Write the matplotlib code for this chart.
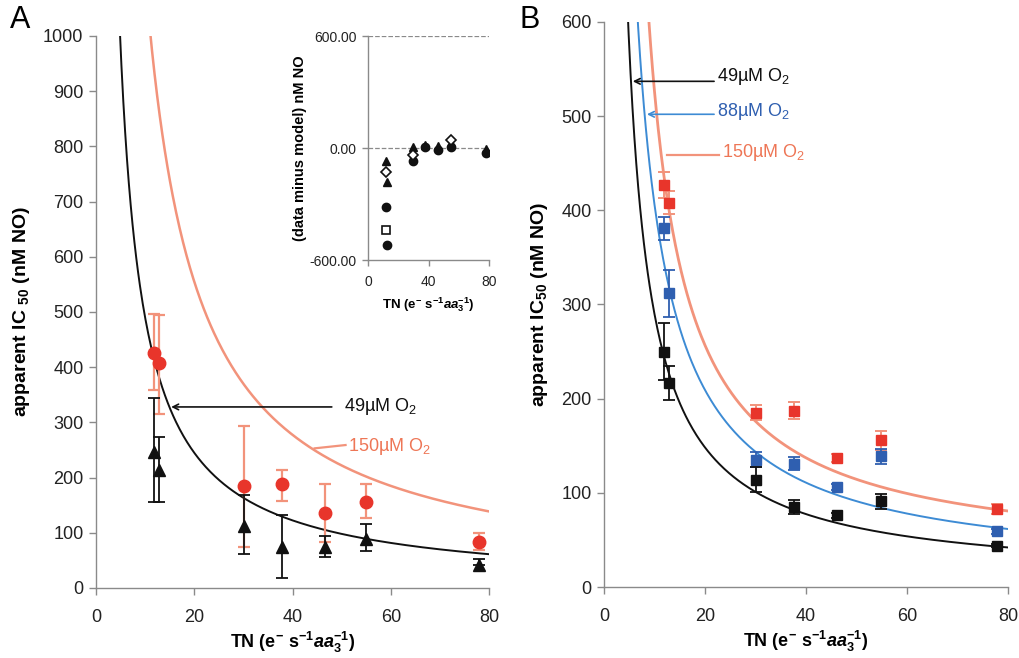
import numpy as np
import matplotlib
matplotlib.use("Agg")
import matplotlib.pyplot as plt

plt.rcParams['font.family'] = ['Liberation Sans', 'DejaVu Sans']
plt.rcParams['mathtext.fontset'] = 'custom'
plt.rcParams['mathtext.rm'] = 'Liberation Sans'
plt.rcParams['mathtext.it'] = 'Liberation Sans:italic'
plt.rcParams['mathtext.bf'] = 'Liberation Sans:bold'
plt.rcParams['mathtext.bfit'] = 'Liberation Sans:bold:italic'

# ---- panel A data (IC50 vs TN) ----
tn_a = [11.9, 12.9, 30.1, 37.8, 46.6, 55.0, 78.0]
ic50_a_49 = [247, 214, 112, 75, 75, 89, 42]
err_a_49_up = [98, 59, 56, 57, 20, 27, 10]
err_a_49_lo = [92, 59, 51, 56, 19, 22, 0]
ic50_a_150 = [425, 407, 185, 188, 136, 156, 84]
err_a_150_up = [72, 88, 109, 26, 52, 32, 15]
err_a_150_lo = [66, 91, 110, 30, 52, 30, 15]

# model fits, IC50 = a / (TN - c) + b
fit_a_49 = (4900, 0, 0)
fit_a_150 = (11100, 0, 0)

# ---- inset (data minus model) ----
ins_tn_tri = [11.6, 12.8, 30, 37.8, 46.6, 55, 78]
ins_tri = [-70, -180, 7, 15, 10, 25, -7]
ins_tn_circ = [11.9, 12.6, 30, 37.8, 46.6, 55, 78]
ins_circ = [-315, -520, -68, 5, -12, 7, -28]
ins_tn_dia = [11.6, 30, 55]
ins_dia = [-127, -37, 43]
ins_tn_sq = [12.2]
ins_sq = [-439]

# ---- panel B data ----
tn_b = [11.9, 12.8, 30.0, 37.7, 46.2, 54.8, 77.8]
ic50_b_49 = [250, 217, 114, 85, 76, 91, 44]
err_b_49 = [30, 18, 13, 7, 3, 8, 2]
ic50_b_88 = [381, 312, 135, 131, 106, 139, 59]
err_b_88 = [12, 25, 8, 7, 3, 8, 3]
ic50_b_150 = [427, 408, 185, 187, 137, 156, 83]
err_b_150 = [14, 12, 8, 9, 4, 10, 5]

fit_b_49 = (2832, 6.6, 0)
fit_b_88 = (3936, 12.4, 0)
fit_b_150 = (4274, 26.3, 1.45)

BLACK = '#111111'
RED = '#e8352b'
RED_LIGHT = '#f2937b'
RED_TXT = '#ee7656'
BLUE = '#2f5fb0'
BLUE_LINE = '#3d8bd4'
GRAY = '#8a8a8a'


def model(fit, x):
    a, b, c = fit
    return a / (x - c) + b


def style_axes(ax, pad=4):
    for s in ['top', 'right']:
        ax.spines[s].set_visible(False)
    for s in ['left', 'bottom']:
        ax.spines[s].set_color(GRAY)
        ax.spines[s].set_linewidth(1.0)
    ax.tick_params(colors=GRAY, labelcolor='#222222', length=5, width=1.0, pad=pad)


xlab = r"$\mathbf{TN\ (e^{-}\ s^{-1}}\mathbfit{aa}_{\mathbf{3}}^{\mathbf{-1}}\mathbf{)}$"

fig = plt.figure(figsize=(10.19, 6.58), dpi=100)

# ================= panel A =================
axA = fig.add_axes([96/1019, 1-588/658, (489-96)/1019, (588-36)/658])
style_axes(axA)
axA.tick_params(axis='x', pad=10)
xa = np.linspace(4.8, 80, 400)
axA.plot(xa, model(fit_a_49, xa), color=BLACK, lw=1.4, clip_on=True)
xr = np.linspace(10, 80, 400)
axA.plot(xr, model(fit_a_150, xr), color=RED_LIGHT, lw=1.8)
axA.errorbar(tn_a, ic50_a_150, yerr=[err_a_150_lo, err_a_150_up], fmt='o', color=RED,
             ms=9, ecolor=RED_LIGHT, elinewidth=1.6, capsize=4, capthick=1.6, zorder=3)
axA.errorbar(tn_a, ic50_a_49, yerr=[err_a_49_lo, err_a_49_up], fmt='^', color=BLACK,
             ms=9, ecolor=BLACK, elinewidth=1.3, capsize=4, capthick=1.3, zorder=4)
axA.set_xlim(0, 80)
axA.set_ylim(0, 1000)
axA.set_xticks([0, 20, 40, 60, 80])
axA.set_yticks(range(0, 1001, 100))
axA.tick_params(labelsize=13)
axA.set_xlabel(xlab, fontsize=13, labelpad=3)
axA.set_ylabel(r"apparent IC $_{\mathbf{50}}$ (nM NO)", fontsize=14, fontweight='bold', labelpad=8)
axA.annotate('', xy=(15.3, 328), xytext=(48, 328),
             arrowprops=dict(arrowstyle='->', color=BLACK, lw=1.2, shrinkA=0, shrinkB=0))
axA.text(50.5, 328, r"49µM O$_2$", fontsize=13, va='center', color=BLACK)
axA.plot([44.5, 50.8], [253, 259], color=RED_LIGHT, lw=1.6)
axA.text(51.2, 257, r"150µM O$_2$", fontsize=13, va='center', color=RED_TXT)
fig.text(10/1019, 1-20/658, 'A', fontsize=22, va='center', ha='left')

# ================= inset =================
axI = fig.add_axes([368/1019, 1-260/658, (489-368)/1019, (260-36)/658])
style_axes(axI)
axI.tick_params(axis='x', pad=7)
axI.axhline(600, color=GRAY, lw=0.9, ls='--')
axI.axhline(0, color=GRAY, lw=0.9, ls='--')
axI.plot(ins_tn_tri, ins_tri, '^', color=BLACK, ms=6, zorder=3)
axI.plot(ins_tn_circ, ins_circ, 'o', color=BLACK, ms=6, zorder=3)
axI.plot(ins_tn_dia, ins_dia, 'D', mfc='white', mec=BLACK, mew=1.2, ms=5, zorder=4)
axI.plot(ins_tn_sq, ins_sq, 's', mfc='white', mec=BLACK, mew=1.2, ms=6, zorder=4)
axI.set_xlim(0, 80)
axI.set_ylim(-600, 600)
axI.set_xticks([0, 40, 80])
axI.set_yticks([-600, 0, 600])
axI.set_yticklabels(['-600.00', '0.00', '600.00'])
axI.tick_params(labelsize=10, length=4)
axI.set_xlabel(xlab, fontsize=9.5, labelpad=4)
axI.set_ylabel("(data minus model) nM NO", fontsize=10.5, fontweight='bold', labelpad=2)

# ================= panel B =================
axB = fig.add_axes([604/1019, 1-587/658, (1008-604)/1019, (587-22)/658])
style_axes(axB)
axB.tick_params(axis='x', pad=10)
xb = np.linspace(4.5, 80, 400)
axB.plot(xb, model(fit_b_49, xb), color=BLACK, lw=1.4)
axB.plot(xb, model(fit_b_88, xb), color=BLUE_LINE, lw=1.4)
axB.plot(xb, model(fit_b_150, xb), color=RED_LIGHT, lw=2.0)
axB.errorbar(tn_b, ic50_b_150, yerr=err_b_150, fmt='s', color=RED, ms=7,
             ecolor=RED_LIGHT, elinewidth=1.4, capsize=4, capthick=1.4, zorder=3)
axB.errorbar(tn_b, ic50_b_88, yerr=err_b_88, fmt='s', color=BLUE, ms=7,
             ecolor=BLUE, elinewidth=1.3, capsize=4, capthick=1.3, zorder=4)
axB.errorbar(tn_b, ic50_b_49, yerr=err_b_49, fmt='s', color=BLACK, ms=7,
             ecolor=BLACK, elinewidth=1.3, capsize=4, capthick=1.3, zorder=5)
axB.set_xlim(0, 80)
axB.set_ylim(0, 600)
axB.set_xticks([0, 20, 40, 60, 80])
axB.set_yticks(range(0, 601, 100))
axB.tick_params(labelsize=13)
axB.set_xlabel(xlab, fontsize=13, labelpad=3)
axB.set_ylabel(r"apparent IC$_{\mathbf{50}}$ (nM NO)", fontsize=14, fontweight='bold', labelpad=8)
axB.annotate('', xy=(5.7, 537), xytext=(21.8, 537),
             arrowprops=dict(arrowstyle='->', color=BLACK, lw=1.2, shrinkA=0, shrinkB=0))
axB.text(22.3, 542, r"49µM O$_2$", fontsize=13, va='center', color=BLACK)
axB.annotate('', xy=(8.5, 502), xytext=(21.8, 502),
             arrowprops=dict(arrowstyle='->', color=BLUE_LINE, lw=1.2, shrinkA=0, shrinkB=0))
axB.text(22.3, 505, r"88µM O$_2$", fontsize=13, va='center', color=BLUE)
axB.plot([12.5, 22.8], [459, 459], color=RED_LIGHT, lw=1.6)
axB.text(23.3, 461, r"150µM O$_2$", fontsize=13, va='center', color=RED_TXT)
fig.text(520/1019, 1-20/658, 'B', fontsize=22, va='center', ha='left')

fig.savefig('out.png', dpi=100)
